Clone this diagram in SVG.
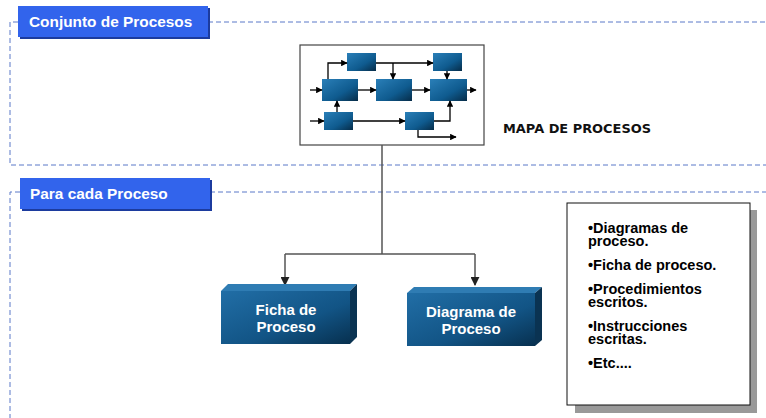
<svg xmlns="http://www.w3.org/2000/svg" width="766" height="418" viewBox="0 0 766 418">
<defs>
<style>
.dash{fill:none;stroke:#5b78c8;stroke-width:1;stroke-dasharray:5,3}
.hdr{fill:#3264ec}
.hdrsh{fill:#1c3b9e}
.hdrt{font-family:"Liberation Sans",Arial,sans-serif;font-weight:bold;font-size:15.4px;fill:#fff}
.conn{fill:none;stroke:#555;stroke-width:1.5}
.mini{fill:url(#mg)}
.ml{fill:none;stroke:#000;stroke-width:1.3}
.big{font-family:"Liberation Sans",Arial,sans-serif;font-weight:bold;font-size:15px;fill:#fff;text-anchor:middle}
.lst{font-family:"Liberation Sans",Arial,sans-serif;font-weight:bold;font-size:14.5px;fill:#000}
</style>
<linearGradient id="mg" x1="0" y1="0" x2="1" y2="1">
<stop offset="0" stop-color="#2a7fb8"/>
<stop offset="0.6" stop-color="#0f5b8f"/>
<stop offset="1" stop-color="#062c48"/>
</linearGradient>
<linearGradient id="fg" x1="0" y1="0" x2="1" y2="1">
<stop offset="0" stop-color="#216ea6"/>
<stop offset="0.6" stop-color="#125485"/>
<stop offset="1" stop-color="#07304f"/>
</linearGradient>
<marker id="ma" viewBox="0 0 10 10" refX="9" refY="5" markerWidth="5" markerHeight="5" orient="auto">
<path d="M0,0 L10,5 L0,10 z" fill="#000"/>
</marker>
<marker id="ca" viewBox="0 0 10 10" refX="9" refY="5" markerWidth="6" markerHeight="6" orient="auto">
<path d="M0,0 L10,5 L0,10 z" fill="#222"/>
</marker>
</defs>
<rect width="766" height="418" fill="#fff"/>

<g id="frames">
<path class="dash" d="M208,22 H766 M18,22 H10 V165 H766"/>
<path class="dash" d="M210,192 H766 M20,192 H10 V418"/>
</g>

<g id="hdr1">
<rect class="hdrsh" x="20" y="8" width="190" height="31"/>
<rect class="hdr" x="18" y="6" width="190" height="31"/>
<text class="hdrt" x="29" y="27">Conjunto de Procesos</text>
</g>

<g id="hdr2">
<rect class="hdrsh" x="22" y="180" width="190" height="31"/>
<rect class="hdr" x="20" y="178" width="190" height="31"/>
<text class="hdrt" x="30" y="199">Para cada Proceso</text>
</g>

<g id="mapa">
<rect x="300" y="45" width="184" height="100" fill="#fff" stroke="#444" stroke-width="1.2"/>
<rect class="mini" x="347" y="53" width="29" height="18"/>
<rect class="mini" x="433" y="53" width="29" height="18"/>
<rect class="mini" x="322" y="79" width="36" height="22"/>
<rect class="mini" x="376" y="79" width="36" height="22"/>
<rect class="mini" x="430" y="79" width="37" height="22"/>
<rect class="mini" x="324" y="112" width="29" height="18"/>
<rect class="mini" x="405" y="112" width="29" height="18"/>
<path class="ml" marker-end="url(#ma)" d="M310,90 H322"/>
<path class="ml" marker-end="url(#ma)" d="M358,90 H376"/>
<path class="ml" marker-end="url(#ma)" d="M412,90 H430"/>
<path class="ml" marker-end="url(#ma)" d="M467,90 H476"/>
<path class="ml" marker-end="url(#ma)" d="M328,79 V63 H347"/>
<path class="ml" marker-end="url(#ma)" d="M376,63 H433"/>
<path class="ml" marker-end="url(#ma)" d="M393,63 V79"/>
<path class="ml" marker-end="url(#ma)" d="M447,71 V79"/>
<path class="ml" marker-end="url(#ma)" d="M337,112 V101"/>
<path class="ml" marker-end="url(#ma)" d="M310,121 H324"/>
<path class="ml" marker-end="url(#ma)" d="M353,121 H405"/>
<path class="ml" marker-end="url(#ma)" d="M434,121 H450 V101"/>
<path class="ml" marker-end="url(#ma)" d="M418,130 V137 H456"/>
</g>

<g id="mapa-label">
<text x="503" y="133" font-family="DejaVu Sans,Verdana,sans-serif" font-weight="bold" font-size="11.5px" textLength="148" lengthAdjust="spacingAndGlyphs" fill="#111">MAPA DE PROCESOS</text>
</g>

<g id="connectors">
<path class="conn" d="M382,145 V254"/>
<path class="conn" d="M285,254 H475"/>
<path class="conn" marker-end="url(#ca)" d="M285,254 V285"/>
<path class="conn" marker-end="url(#ca)" d="M475,254 V285"/>
</g>

<g id="ficha">
<path d="M221,291 L228,284 L357,284 L350,291 Z" fill="#2f7cb3"/>
<path d="M350,291 L357,284 L357,337 L350,344 Z" fill="#0a3352"/>
<rect x="221" y="291" width="129" height="53" fill="url(#fg)"/>
<text class="big" x="286" y="315">Ficha de</text>
<text class="big" x="286" y="332">Proceso</text>
</g>

<g id="diagrama">
<path d="M407,293 L414,287 L542,287 L535,293 Z" fill="#2f7cb3"/>
<path d="M535,293 L542,287 L542,340 L535,346 Z" fill="#0a3352"/>
<rect x="407" y="293" width="128" height="53" fill="url(#fg)"/>
<text class="big" x="471" y="317">Diagrama de</text>
<text class="big" x="471" y="334">Proceso</text>
</g>

<g id="lista">
<rect x="575" y="210" width="182" height="203" fill="#999"/>
<rect x="567" y="203" width="183" height="202" fill="#fff" stroke="#111" stroke-width="1"/>
<text class="lst" x="588" y="233">•Diagramas de</text>
<text class="lst" x="588" y="246">proceso.</text>
<text class="lst" x="588" y="270">•Ficha de proceso.</text>
<text class="lst" x="588" y="294">•Procedimientos</text>
<text class="lst" x="588" y="307">escritos.</text>
<text class="lst" x="588" y="331">•Instrucciones</text>
<text class="lst" x="588" y="344">escritas.</text>
<text class="lst" x="588" y="368">•Etc....</text>
</g>
</svg>
